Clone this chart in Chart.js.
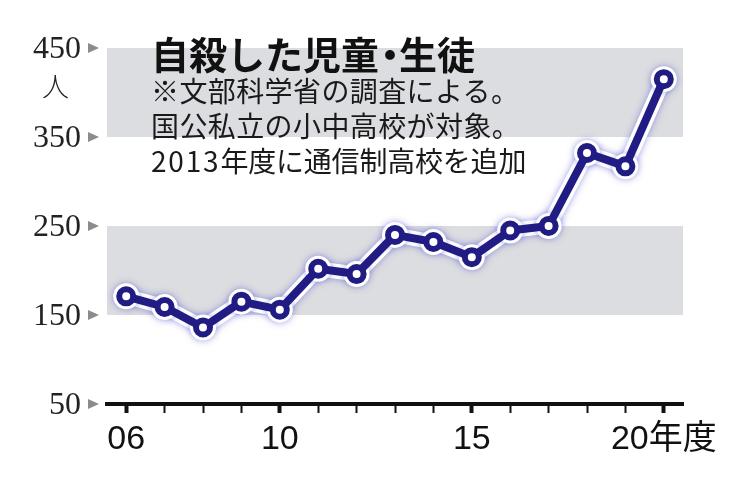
<!DOCTYPE html>
<html lang="ja">
<head>
<meta charset="utf-8">
<script src="https://cdn.jsdelivr.net/npm/chart.js@4"></script>
<style>
  body { margin: 0; background: #fff; }
  #wrap { position: relative; width: 750px; height: 483px; }
  .txt { position: absolute; white-space: nowrap; color: #111; font-family: "Noto Sans CJK JP", sans-serif; }
  #title { left: 151px; top: 31px; font-size: 38px; font-weight: bold; line-height: 44px; letter-spacing: 0px; }
  #title .dot { letter-spacing: -10px; margin-left: -8px; }
  #note { left: 151px; top: 73px; font-size: 28px; line-height: 35px; letter-spacing: 0.4px; color: #1a1a1a; font-weight: 400; }
  #note .l3 { letter-spacing: -0.2px; }
  #note .num { letter-spacing: 1.8px; }
  #unit { left: 42px; top: 70px; font-size: 27px; line-height: 32px; color: #222; font-weight: 300; }
</style>
</head>
<body>
<div id="wrap">
  <canvas id="chart" width="750" height="483"></canvas>
  <div class="txt" id="title">自殺した児童<span class="dot">・</span>生徒</div>
  <div class="txt" id="note">※文部科学省の調査による。<br>国公私立の小中高校が対象。<br><span class="l3"><span class="num">2013</span>年度に通信制高校を追加</span></div>
  <div class="txt" id="unit">人</div>
</div>
<script>
// fiscal years 2006-2020
const years = ['06', '07', '08', '09', '10', '11', '12', '13', '14', '15', '16', '17', '18', '19', '20']
const suicides = [171, 159, 136, 165, 156, 202, 196, 240, 232, 215, 245, 250, 332, 317, 415]
const xTickLabels = ['06', '', '', '', '10', '', '', '', '', '15', '', '', '', '', '20年度']
const yTickValues = [50, 150, 250, 350, 450]
const shadedBands = [[150, 250], [350, 450]]

const navy = '#201c84'

const decor = {
  id: 'decor',
  beforeDatasetsDraw(chart) {
    const { ctx, chartArea } = chart
    const y = chart.scales.y
    ctx.save()
    ctx.fillStyle = '#dcdde0'
    shadedBands.forEach(([lo, hi]) => {
      const top = y.getPixelForValue(hi)
      const bottom = y.getPixelForValue(lo)
      ctx.fillRect(chartArea.left, top, chartArea.right - chartArea.left, bottom - top)
    })
    ctx.restore()
  },
  beforeDatasetDraw(chart, args) {
    // soft blue glow only under the white halo
    if (args.index === 1) {
      chart.ctx.save()
      chart.ctx.shadowColor = 'rgba(80, 80, 210, 0.55)'
      chart.ctx.shadowBlur = 7
    }
  },
  afterDatasetDraw(chart, args) {
    if (args.index === 1) chart.ctx.restore()
  },
  afterDraw(chart) {
    // little grey arrowheads next to the y labels
    const { ctx } = chart
    const y = chart.scales.y
    ctx.save()
    ctx.fillStyle = '#8c8c8c'
    yTickValues.forEach(v => {
      const py = y.getPixelForValue(v)
      ctx.beginPath()
      ctx.moveTo(88, py - 5)
      ctx.lineTo(99, py)
      ctx.lineTo(88, py + 5)
      ctx.closePath()
      ctx.fill()
    })
    ctx.restore()
  }
}

new Chart(document.getElementById('chart'), {
  type: 'line',
  data: {
    labels: years,
    datasets: [
      {
        data: suicides,
        borderColor: navy,
        borderWidth: 8,
        pointRadius: 7,
        pointBorderWidth: 6,
        pointBorderColor: navy,
        pointBackgroundColor: '#ffffff',
        borderJoinStyle: 'round',
        tension: 0
      },
      {
        // white halo under the line
        data: suicides,
        borderColor: '#ffffff',
        borderWidth: 15,
        pointRadius: 13,
        pointBorderWidth: 0,
        pointBackgroundColor: '#ffffff',
        borderJoinStyle: 'round',
        tension: 0
      }
    ]
  },
  options: {
    responsive: false,
    animation: false,
    layout: {
      padding: { top: 48, right: 67, bottom: 0, left: 0 }
    },
    plugins: {
      legend: { display: false },
      tooltip: { enabled: false }
    },
    scales: {
      x: {
        type: 'category',
        offset: true,
        afterFit(scale) { scale.height = 79 },
        grid: {
          offset: false,
          drawOnChartArea: false,
          tickLength: 9,
          tickColor: '#111',
          tickWidth: ctx => (xTickLabels[ctx.index] ? 4 : 2)
        },
        border: { display: true, color: '#111', width: 4 },
        ticks: {
          autoSkip: false,
          maxRotation: 0,
          padding: 6,
          color: '#111',
          font: { family: '"Liberation Sans", "Noto Sans CJK JP", sans-serif', size: 34 },
          callback: (val, i) => xTickLabels[i]
        }
      },
      y: {
        min: 50,
        max: 450,
        afterFit(scale) { scale.width = 107 },
        afterBuildTicks(scale) {
          scale.ticks = yTickValues.map(v => ({ value: v }))
        },
        grid: { display: false, drawTicks: false },
        border: { display: false },
        ticks: {
          padding: 26,
          color: '#222',
          labelOffset: 2,
          font: { family: '"Liberation Serif", serif', size: 32 }
        }
      }
    }
  },
  plugins: [decor]
})
</script>
</body>
</html>
